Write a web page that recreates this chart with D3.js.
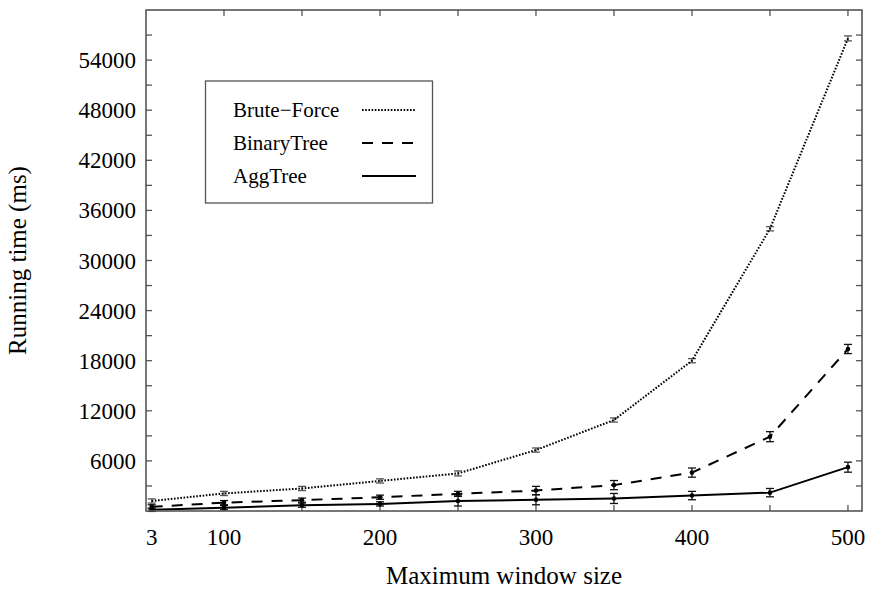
<!DOCTYPE html>
<html><head><meta charset="utf-8">
<script src="https://cdn.jsdelivr.net/npm/d3@7"></script>
<style>body{margin:0;background:#fff}svg{display:block}text{font-family:"Liberation Serif","Times New Roman",serif}</style>
</head><body>
<script>
const windowSizes = [3, 100, 150, 200, 250, 300, 350, 400, 450, 500];
const bruteForce = [1200, 2100, 2700, 3600, 4500, 7300, 10900, 18000, 33800, 56600];
const bruteForceErr = [250, 250, 250, 250, 300, 250, 250, 250, 250, 300];
const binaryTree = [500, 1000, 1300, 1650, 2050, 2450, 3100, 4600, 8900, 19400];
const binaryTreeErr = [250, 250, 250, 250, 300, 500, 550, 550, 600, 550];
const aggTree = [150, 400, 700, 850, 1200, 1350, 1500, 1850, 2200, 5250];
const aggTreeErr = [200, 250, 250, 250, 600, 600, 600, 500, 500, 600];
const xTickLabels = [3, 100, 200, 300, 400, 500];
const xTickMarks = [100, 150, 200, 250, 300, 350, 400, 450, 500];
const yTickLabels = [6000, 12000, 18000, 24000, 30000, 36000, 42000, 48000, 54000];
const yTickMarks = d3.range(3000, 60000, 3000);
const seriesNames = ["Brute\u2212Force", "BinaryTree", "AggTree"];

const W = 869, H = 590;
const L = 146, R = 862, T = 10, B = 511;
const x = d3.scaleLinear().domain([0, 3, 100, 509]).range([146, 151.7, 224, R]);
const y = d3.scaleLinear().domain([0, 60000]).range([B, T]);

const svg = d3.select("body").append("svg").attr("width", W).attr("height", H);
const fsTick = 23, fsTitle = 25, fsLeg = 21;

// ticks
const tk = svg.append("g").attr("stroke", "#555").attr("stroke-width", 1.3);
xTickMarks.forEach(v => {
  tk.append("line").attr("x1", x(v)).attr("x2", x(v)).attr("y1", B).attr("y2", B - 6);
  tk.append("line").attr("x1", x(v)).attr("x2", x(v)).attr("y1", T).attr("y2", T + 6);
});
yTickMarks.forEach(v => {
  tk.append("line").attr("x1", L).attr("x2", L + 6).attr("y1", y(v)).attr("y2", y(v));
  tk.append("line").attr("x1", R).attr("x2", R - 6).attr("y1", y(v)).attr("y2", y(v));
});

// tick labels
svg.append("g").selectAll("text").data(xTickLabels).join("text")
  .attr("x", d => x(d)).attr("y", 545).attr("text-anchor", "middle")
  .attr("font-size", fsTick).text(d => d);
svg.append("g").selectAll("text").data(yTickLabels).join("text")
  .attr("x", L - 10).attr("y", d => y(d)).attr("dy", "0.35em").attr("text-anchor", "end")
  .attr("font-size", fsTick).text(d => d);

// axis titles
svg.append("text").attr("x", (L + R) / 2).attr("y", 584).attr("text-anchor", "middle")
  .attr("font-size", fsTitle).text("Maximum window size");
svg.append("text").attr("transform", `translate(26,${(T + B) / 2}) rotate(-90)`)
  .attr("text-anchor", "middle").attr("font-size", fsTitle).text("Running time (ms)");

const series = [
  {vals: bruteForce, err: bruteForceErr, dash: "1.6,1.6", ec: "#555", dot: false},
  {vals: binaryTree, err: binaryTreeErr, dash: "11,9", ec: "#111", dot: true},
  {vals: aggTree, err: aggTreeErr, dash: null, ec: "#111", dot: true}
];

const line = d3.line().x(d => x(d[0])).y(d => y(d[1]));
series.forEach(s => {
  const pts = windowSizes.map((w, i) => [w, s.vals[i], s.err[i]]);
  const g = svg.append("g");
  g.selectAll("g.eb").data(pts).join("g").each(function(d) {
    const e = d3.select(this).attr("stroke", s.ec).attr("stroke-width", 1.3);
    const cx = x(d[0]);
    e.append("line").attr("x1", cx).attr("x2", cx).attr("y1", y(d[1] - d[2])).attr("y2", y(d[1] + d[2]));
    e.append("line").attr("x1", cx - 4).attr("x2", cx + 4).attr("y1", y(d[1] - d[2])).attr("y2", y(d[1] - d[2]));
    e.append("line").attr("x1", cx - 4).attr("x2", cx + 4).attr("y1", y(d[1] + d[2])).attr("y2", y(d[1] + d[2]));
  });
  g.append("path").attr("d", line(pts)).attr("fill", "none").attr("stroke", "#000")
    .attr("stroke-width", 2).attr("stroke-dasharray", s.dash);
  if (s.dot) g.selectAll("circle").data(pts).join("circle")
    .attr("cx", d => x(d[0])).attr("cy", d => y(d[1])).attr("r", 2.3).attr("fill", "#000");
});

// frame
svg.append("rect").attr("x", L).attr("y", T).attr("width", R - L).attr("height", B - T)
  .attr("fill", "none").attr("stroke", "#555").attr("stroke-width", 1.6);

// legend
const lg = svg.append("g");
lg.append("rect").attr("x", 205.5).attr("y", 81).attr("width", 227).attr("height", 122)
  .attr("fill", "#fff").attr("stroke", "#555").attr("stroke-width", 1.3);
const ly = [110, 143, 176];
series.forEach((s, i) => {
  lg.append("text").attr("x", 233).attr("y", ly[i]).attr("dy", "0.35em").attr("font-size", fsLeg).text(seriesNames[i]);
  lg.append("line").attr("x1", 362).attr("x2", 416).attr("y1", ly[i]).attr("y2", ly[i])
    .attr("stroke", "#000").attr("stroke-width", 2).attr("stroke-dasharray", s.dash);
});
</script>
</body></html>
